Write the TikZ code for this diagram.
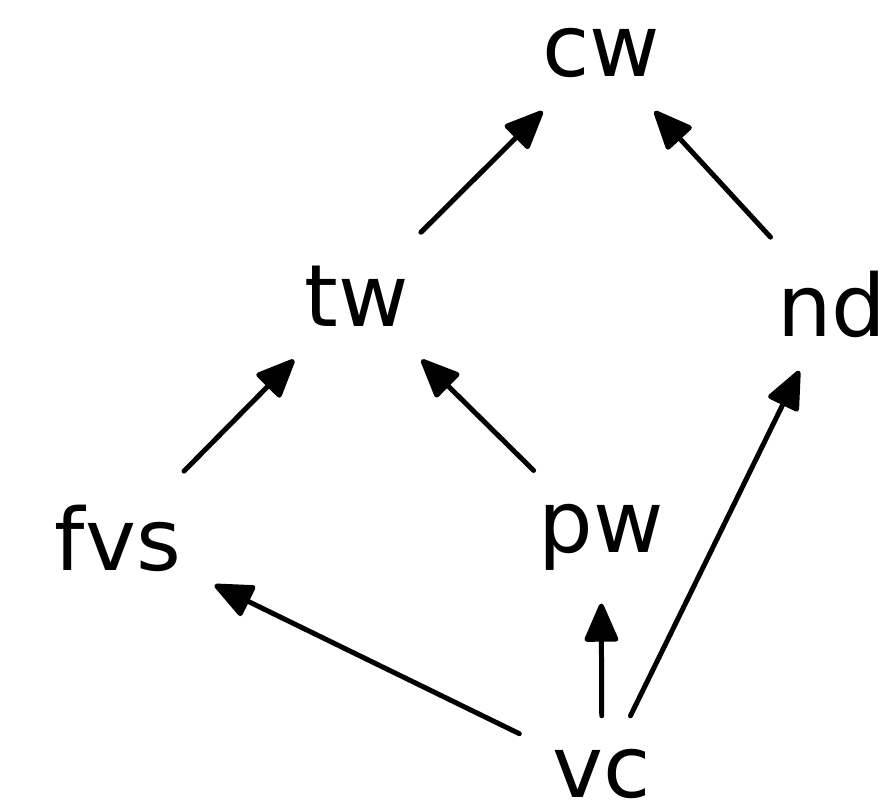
\documentclass[tikz,border=0pt]{standalone}
\usepackage{fontspec}
\setmainfont{DejaVu Sans}
\usetikzlibrary{arrows.meta}

\begin{document}
\begin{tikzpicture}[>={Triangle[length=12pt,width=10pt,round]},line width=1.42pt,line cap=round,
		                    main node/.style={inner sep=0.31cm,font=\fontsize{24.5}{29}\selectfont}]

			\useasboundingbox (0, 0) rectangle (8.85, 8.09);

			% Nodes
			% Top
			\node[main node] (cw) at (6.01, 7.56) {cw};

			% Middle
			\node[main node] (tw) at (3.57, 5.13) {tw};
			\node[main node] (nd) at (8.32, 5.05) {nd};

			% Lower
			\node[main node] (fvs) at (1.18, 2.71) {fvs};
			\node[main node] (pw) at (6.01, 2.72) {pw};

			% Bottom
			\node[main node] (vc) at (6.02, 0.35) {vc};


			% Edges
			\draw[->] (tw) -- (cw);
			\draw[->] (nd) -- (cw);

			\draw[->] (fvs) -- (tw);
			\draw[->] (pw) -- (tw);

			\draw[->] (vc) -- (fvs);
			\draw[->] (vc) -- (pw);
			\draw[->] (vc) -- (nd);
		\end{tikzpicture}
\end{document}
